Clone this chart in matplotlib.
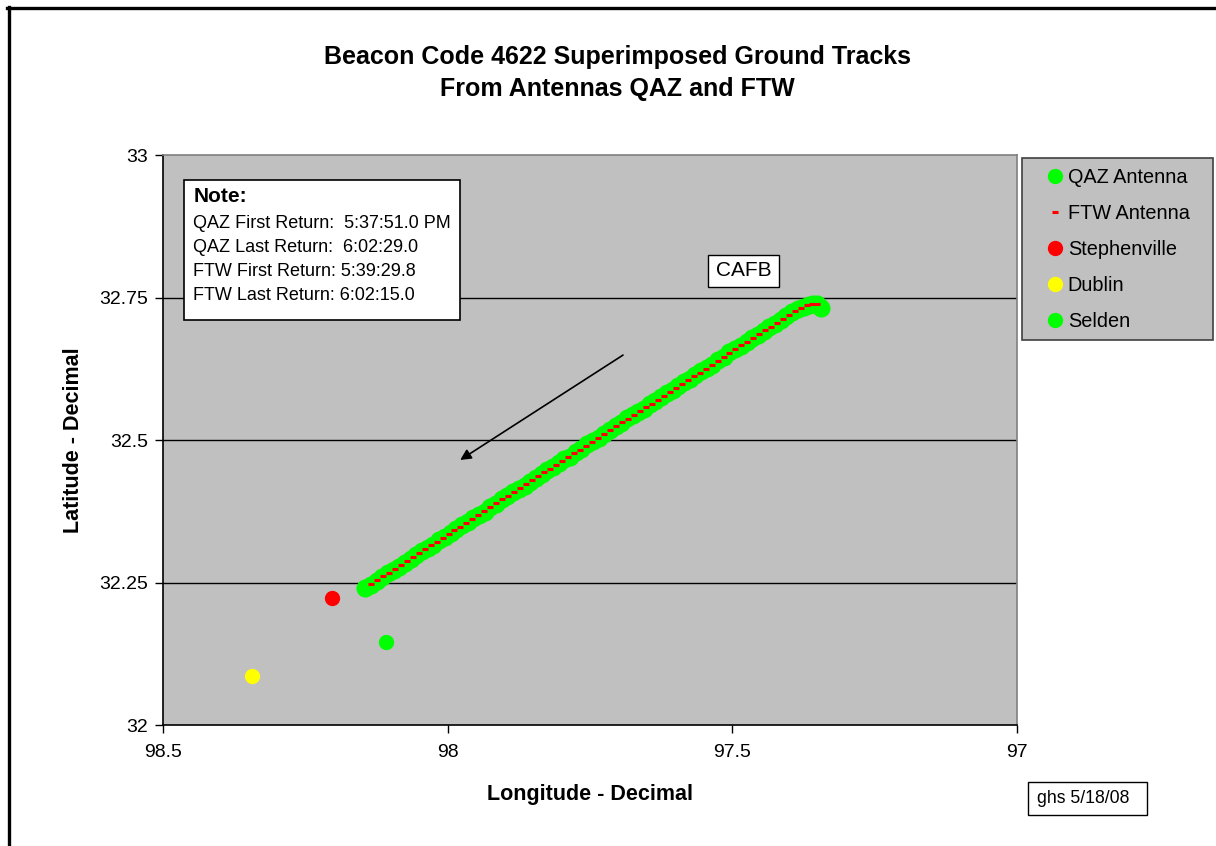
import matplotlib
matplotlib.use("Agg")
import matplotlib.pyplot as plt
from matplotlib.lines import Line2D
from matplotlib.patches import Rectangle

plt.rcParams['font.family'] = ['Liberation Sans', 'DejaVu Sans']

# ---------------- data ----------------
qaz_lon = [98.145, 98.135, 98.125, 98.115, 98.105, 98.095, 98.085, 98.075, 98.065, 98.055,
           98.045, 98.035, 98.025, 98.015, 98.005, 97.995, 97.985, 97.975, 97.965, 97.955,
           97.945, 97.935, 97.925, 97.915, 97.905, 97.895, 97.885, 97.875, 97.865, 97.855,
           97.845, 97.835, 97.825, 97.815, 97.805, 97.795, 97.785, 97.775, 97.765, 97.755,
           97.745, 97.735, 97.725, 97.715, 97.705, 97.695, 97.685, 97.675, 97.665, 97.655,
           97.645, 97.635, 97.625, 97.615, 97.605, 97.595, 97.585, 97.575, 97.565, 97.555,
           97.545, 97.535, 97.525, 97.515, 97.505, 97.495, 97.485, 97.475, 97.465, 97.455,
           97.445, 97.435, 97.425, 97.415, 97.405, 97.395, 97.385, 97.375, 97.366, 97.358,
           97.351, 97.347, 97.345]
qaz_lat = [32.240, 32.246, 32.253, 32.260, 32.266, 32.272, 32.278, 32.285, 32.292, 32.298,
           32.305, 32.311, 32.316, 32.324, 32.330, 32.337, 32.343, 32.351, 32.356, 32.363,
           32.369, 32.374, 32.382, 32.388, 32.396, 32.401, 32.408, 32.414, 32.420, 32.427,
           32.434, 32.440, 32.447, 32.453, 32.459, 32.466, 32.471, 32.479, 32.485, 32.493,
           32.498, 32.504, 32.510, 32.517, 32.524, 32.530, 32.538, 32.543, 32.550, 32.555,
           32.563, 32.569, 32.575, 32.583, 32.588, 32.595, 32.601, 32.607, 32.614, 32.621,
           32.627, 32.632, 32.640, 32.646, 32.654, 32.659, 32.665, 32.672, 32.679, 32.685,
           32.691, 32.698, 32.704, 32.711, 32.717, 32.724, 32.729, 32.734, 32.737, 32.739,
           32.738, 32.735, 32.731]

ftw_lon = [98.1350, 98.1245, 98.1140, 98.1035, 98.0930, 98.0825, 98.0720, 98.0615, 98.0510,
           98.0405, 98.0300, 98.0195, 98.0090, 97.9985, 97.9880, 97.9775, 97.9670, 97.9565,
           97.9460, 97.9355, 97.9250, 97.9145, 97.9040, 97.8935, 97.8830, 97.8725, 97.8620,
           97.8515, 97.8410, 97.8305, 97.8200, 97.8095, 97.7990, 97.7885, 97.7780, 97.7675,
           97.7570, 97.7465, 97.7360, 97.7255, 97.7150, 97.7045, 97.6940, 97.6835, 97.6730,
           97.6625, 97.6520, 97.6415, 97.6310, 97.6205, 97.6100, 97.5995, 97.5890, 97.5785,
           97.5680, 97.5575, 97.5470, 97.5365, 97.5260, 97.5155, 97.5050, 97.4945, 97.4840,
           97.4735, 97.4630, 97.4525, 97.4420, 97.4315, 97.4210, 97.4105, 97.4000, 97.3895,
           97.3790, 97.3690, 97.3600, 97.3520]
ftw_lat = [32.247, 32.254, 32.261, 32.267, 32.274, 32.281, 32.288, 32.294, 32.301,
           32.308, 32.315, 32.321, 32.328, 32.335, 32.342, 32.348, 32.355, 32.362,
           32.369, 32.375, 32.382, 32.389, 32.396, 32.402, 32.409, 32.416, 32.423,
           32.429, 32.436, 32.443, 32.450, 32.456, 32.463, 32.470, 32.477, 32.483,
           32.490, 32.497, 32.504, 32.510, 32.517, 32.524, 32.531, 32.537, 32.544,
           32.551, 32.558, 32.564, 32.571, 32.578, 32.585, 32.591, 32.598, 32.605,
           32.612, 32.618, 32.625, 32.632, 32.639, 32.645, 32.652, 32.659, 32.666,
           32.672, 32.679, 32.686, 32.693, 32.699, 32.706, 32.713, 32.720, 32.726,
           32.732, 32.736, 32.738, 32.739]

stephenville = (98.203, 32.223)
dublin = (98.344, 32.086)
selden = (98.108, 32.146)

x_ticks = [98.5, 98.0, 97.5, 97.0]
x_tick_labels = ["98.5", "98", "97.5", "97"]
y_ticks = [32.0, 32.25, 32.5, 32.75, 33.0]
y_tick_labels = ["32", "32.25", "32.5", "32.75", "33"]

title = "Beacon Code 4622 Superimposed Ground Tracks\nFrom Antennas QAZ and FTW"
note_lines = ["QAZ First Return:  5:37:51.0 PM",
              "QAZ Last Return:  6:02:29.0",
              "FTW First Return: 5:39:29.8",
              "FTW Last Return: 6:02:15.0"]

# ---------------- figure ----------------
W, H = 1216, 846
fig = plt.figure(figsize=(W / 100, H / 100), dpi=100)
fig.patch.set_facecolor('white')

def fx(px):
    return px / W

def fy(py):
    return 1 - py / H

def frect(x0, y0, x1, y1, **kw):
    r = Rectangle((fx(x0), fy(y1)), fx(x1) - fx(x0), fy(y0) - fy(y1),
                  transform=fig.transFigure, **kw)
    fig.patches.append(r)
    return r

ax = fig.add_axes([fx(163), fy(725), fx(1017) - fx(163), fy(155) - fy(725)])
ax.set_facecolor('#C0C0C0')
ax.set_xlim(98.5, 97.0)
ax.set_ylim(32.0, 33.0)

for yv in y_ticks[1:-1]:
    ax.axhline(yv, color='black', lw=1.0, zorder=1)

ax.plot(qaz_lon, qaz_lat, 'o', color='#00FF00', ms=12, mec='#00FF00', ls='none',
        zorder=3, label='QAZ Antenna')
ax.plot(ftw_lon, ftw_lat, '_', color='#FF0000', ms=4.5, mew=2.2, ls='none',
        zorder=4, label='FTW Antenna')
ax.plot([stephenville[0]], [stephenville[1]], 'o', color='#FF0000', ms=10, ls='none',
        zorder=3, label='Stephenville')
ax.plot([dublin[0]], [dublin[1]], 'o', color='#FFFF00', ms=10, ls='none',
        zorder=3, label='Dublin')
ax.plot([selden[0]], [selden[1]], 'o', color='#00FF00', ms=10, ls='none',
        zorder=3, label='Selden')

ax.set_xticks(x_ticks)
ax.set_xticklabels(x_tick_labels)
ax.set_yticks(y_ticks)
ax.set_yticklabels(y_tick_labels)
ax.tick_params(axis='both', direction='out', length=6, width=1, colors='black',
               labelsize=14, pad=5)
ax.tick_params(axis='x', pad=8)

for s in ['left', 'bottom']:
    ax.spines[s].set_color('black')
    ax.spines[s].set_linewidth(1.2)
for s in ['top', 'right']:
    ax.spines[s].set_color('#808080')
    ax.spines[s].set_linewidth(1.2)

ax.set_xlabel('Longitude - Decimal', fontsize=15.5, fontweight='bold', labelpad=16)
ax.set_ylabel('Latitude - Decimal', fontsize=15.5, fontweight='bold', labelpad=11)

fig.text(fx(617), fy(73), title, ha='center', va='center', fontsize=18,
         fontweight='bold', linespacing=1.37)

# arrow
ax.annotate('', xy=(97.978, 32.465), xytext=(97.692, 32.649),
            arrowprops=dict(arrowstyle='-|>', color='black', lw=1.2,
                            mutation_scale=16, shrinkA=0, shrinkB=0), zorder=5)

# CAFB label
frect(708, 255, 779, 287, fc='white', ec='black', lw=1, zorder=6)
fig.text(fx(743.5), fy(270), 'CAFB', ha='center', va='center', fontsize=15, zorder=7)

# note box
frect(184, 180, 460, 320, fc='white', ec='black', lw=1.2, zorder=6)
fig.text(fx(194), fy(196), 'Note:', ha='left', va='center', fontsize=15,
         fontweight='bold', zorder=7)
for i, line in enumerate(note_lines):
    fig.text(fx(193), fy(223 + 24 * i), line, ha='left', va='center', fontsize=13,
             zorder=7)

# legend
frect(1022, 158, 1213, 340, fc='#C0C0C0', ec='#404040', lw=1.2, zorder=1)
leg = fig.legend(loc='upper left', bbox_to_anchor=(fx(1047), fy(168)),
                 bbox_transform=fig.transFigure, fontsize=14.3, frameon=False,
                 handlelength=0.85, handletextpad=0.2, labelspacing=0.85,
                 borderpad=0.0, borderaxespad=0, markerscale=1.0)
leg.set_zorder(5)
for h in leg.legend_handles:
    if h.get_marker() == 'o':
        h.set_markersize(10)

# date box
frect(1028, 782, 1147, 815, fc='white', ec='black', lw=1, zorder=6)
fig.text(fx(1037), fy(798.5), 'ghs 5/18/08', ha='left', va='center', fontsize=12.7,
         zorder=7)

# outer border (partial, top and left)
fig.add_artist(Line2D([fx(7), 1.0], [fy(8.5), fy(8.5)], transform=fig.transFigure,
                      color='black', lw=2.4))
fig.add_artist(Line2D([fx(8.5), fx(8.5)], [fy(7), 0.0], transform=fig.transFigure,
                      color='black', lw=2.4))

fig.savefig('out.png', dpi=100, facecolor='white')
